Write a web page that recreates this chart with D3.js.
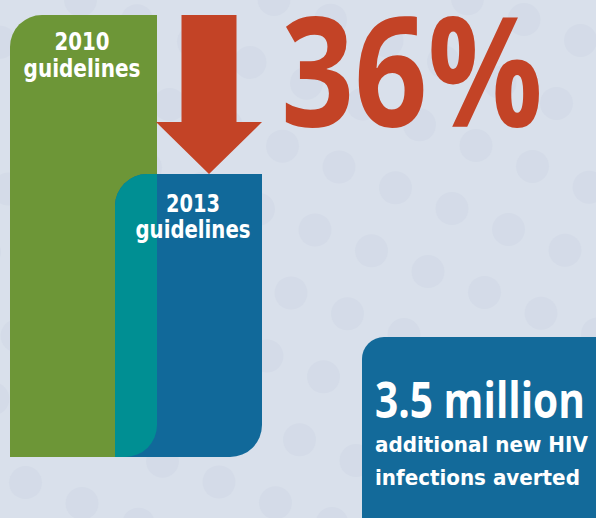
<!DOCTYPE html>
<html>
<head>
<meta charset="utf-8">
<script src="https://cdn.jsdelivr.net/npm/d3@7/dist/d3.min.js"></script>
<style>
  html, body { margin: 0; padding: 0; background: #d9e0eb; }
  svg { display: block; }
</style>
</head>
<body>
<svg id="chart" width="596" height="518"></svg>
<script>
// Relative number of new HIV infections under each set of guidelines
const categories = ["2010", "2013"];
const labelLines = [["2010", "guidelines"], ["2013", "guidelines"]];
const values = [100, 64];
const reductionLabel = "36%";
const calloutTitle = "3.5 million";
const calloutLines = ["additional new HIV", "infections averted"];

const W = 596, H = 518;
const svg = d3.select("#chart");

const barColors = ["#6d9637", "#11699a"];
const overlapColor = "#008f93";
const red = "#c34326";

// background with a faint dot lattice
svg.append("rect").attr("width", W).attr("height", H).attr("fill", "#d9e0eb");
const dots = svg.append("g").attr("fill", "#d4dbe8");
const stepA = [56.5, 20.8], stepB = [-24, 63];
for (let i = -12; i < 20; i++) {
  for (let j = -4; j < 14; j++) {
    const cx = 315 + i * stepA[0] + j * stepB[0];
    const cy = 230 + i * stepA[1] + j * stepB[1];
    if (cx > -20 && cx < W + 20 && cy > -20 && cy < H + 20) {
      dots.append("circle").attr("cx", cx).attr("cy", cy).attr("r", 16.5);
    }
  }
}

// scales
const y = d3.scaleLinear().domain([0, 100]).range([457, 15]);
const x = d3.scalePoint().domain(categories).range([10, 115]);
const barW = 147;
const r = 32;

// bar outline: rounded top-left and bottom-right corners
function barPath(x0, y0, x1, y1, rr) {
  return `M${x0},${y0 + rr}A${rr},${rr} 0 0 1 ${x0 + rr},${y0}H${x1}V${y1 - rr}` +
         `A${rr},${rr} 0 0 1 ${x1 - rr},${y1}H${x0}Z`;
}

const data = categories.map((c, i) => ({ c, v: values[i], lines: labelLines[i], color: barColors[i] }));
const paths = data.map(d => barPath(x(d.c), y(d.v), x(d.c) + barW, y(0), r));

const defs = svg.append("defs");
defs.append("clipPath").attr("id", "clip-first")
  .append("path").attr("d", paths[0]);

svg.selectAll("path.bar").data(data).join("path")
  .attr("class", "bar")
  .attr("d", (d, i) => paths[i])
  .attr("fill", d => d.color);

// overlap of the two bars
svg.append("path")
  .attr("d", paths[1])
  .attr("clip-path", "url(#clip-first)")
  .attr("fill", overlapColor);

// text helper: squeeze a line horizontally to a given width
function addText(str, px, py, width, opts) {
  const t = svg.append("text")
    .attr("x", 0).attr("y", 0)
    .attr("text-anchor", opts.anchor || "start")
    .attr("font-family", opts.family)
    .attr("font-weight", "bold")
    .attr("font-size", opts.size)
    .attr("fill", opts.fill)
    .text(str);
  const natural = t.node().getComputedTextLength();
  const sx = natural > 0 ? width / natural : 1;
  t.attr("transform", `translate(${px},${py}) scale(${sx},1)`);
  return t;
}

const condensed = "'DejaVu Sans Condensed', 'DejaVu Sans', sans-serif";
const humanist = "'Open Sans', 'Noto Sans', sans-serif";

// bar labels
const labelLayout = [
  { cx: 82, base: [50, 77], len: [55, 117] },
  { cx: 193, base: [212, 238], len: [54, 115] }
];
data.forEach((d, i) => {
  const L = labelLayout[i];
  d.lines.forEach((t, k) => {
    addText(t, L.cx, L.base[k], L.len[k],
      { anchor: "middle", family: condensed, size: 24, fill: "#ffffff" });
  });
});

// arrow from the first bar's top down to the second bar's top
const arrowX = 209, shaftHalf = 27.5, headHalf = 53;
const yTop = y(values[0]), yTip = y(values[1]);
const headY = yTip - 52;
svg.append("path")
  .attr("d", `M${arrowX - shaftHalf},${yTop}H${arrowX + shaftHalf}V${headY}H${arrowX + headHalf}` +
             `L${arrowX},${yTip}L${arrowX - headHalf},${headY}H${arrowX - shaftHalf}Z`)
  .attr("fill", red);

// reduction figure
addText(reductionLabel, 281, 127, 262, { family: humanist, size: 152, fill: red });

// callout box
svg.append("path")
  .attr("d", `M362,${H + 10}V359A22,22 0 0 1 384,337H${W + 10}V${H + 10}Z`)
  .attr("fill", "#136a9a");

addText(calloutTitle, 375, 418, 210, { family: humanist, size: 50, fill: "#ffffff" });

const calloutLayout = [{ base: 452, len: 213 }, { base: 485, len: 205 }];
calloutLines.forEach((t, k) => {
  addText(t, 375, calloutLayout[k].base, calloutLayout[k].len,
    { family: condensed, size: 21, fill: "#ffffff" });
});
</script>
</body>
</html>
